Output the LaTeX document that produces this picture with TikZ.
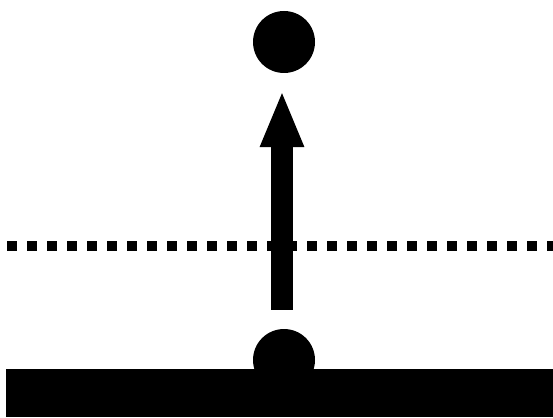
\documentclass[tikz,border=0pt]{standalone}
\usetikzlibrary{arrows.meta}
\tikzset{ball/.style={circle, fill=black, minimum size=62pt, inner sep=0pt}}
\begin{document}
\begin{tikzpicture}[x=1pt, y=-1pt]
\useasboundingbox (0,0) rectangle (553,417);
\node[ball] (top) at (284,42) {};
\node[ball] (base) at (284,360) {};
\fill (6,369) rectangle (553,417);
\draw[line width=10pt, dash pattern=on 10pt off 10pt] (7,246) -- (553,246);
\draw[line width=22pt, -{Triangle[width=40pt, length=57pt]}, shorten <=19pt, shorten >=17pt] (base.north) ++(-2,0) coordinate (from) (from) -- (from |- top.south);
\end{tikzpicture}
\end{document}
